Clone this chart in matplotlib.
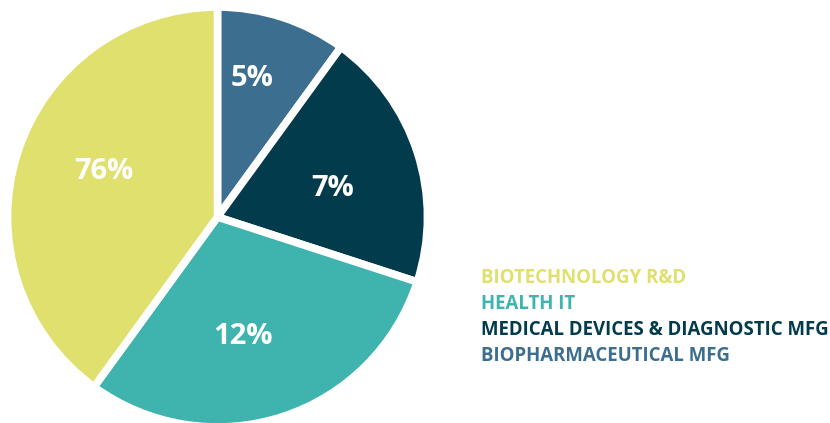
import matplotlib
matplotlib.use('Agg')
import matplotlib.pyplot as plt
import numpy as np

# slice sizes as drawn, and the printed labels
categories = ['BIOPHARMACEUTICAL MFG', 'MEDICAL DEVICES & DIAGNOSTIC MFG',
              'HEALTH IT', 'BIOTECHNOLOGY R&D']
slice_sizes = [10, 20, 30, 40]
pct_labels = ['5%', '7%', '12%', '76%']
colors = ['#3C6E8F', '#023B4B', '#3FB4AE', '#DFE06E']

legend_order = [3, 2, 1, 0]
# label placement tweaks: radial distance and angle shift from wedge middle
label_dist = [0.69, 0.57, 0.59, 0.59]
label_shift = [4, -4, -6, -4]

fig = plt.figure(figsize=(8.3, 4.23), dpi=100)
ax = fig.add_axes([10 / 830, -1.5 / 423, 415 / 830, 415 / 423])

wedges, texts = ax.pie(
    slice_sizes, colors=colors, startangle=90, counterclock=False,
    radius=1.012, wedgeprops=dict(edgecolor='white', linewidth=5.5))

for w, lab, d, s in zip(wedges, pct_labels, label_dist, label_shift):
    ang = np.deg2rad((w.theta1 + w.theta2) / 2 + s)
    ax.text(d * np.cos(ang), d * np.sin(ang), lab, color='white',
            fontsize=21, fontweight='bold', family='Open Sans',
            ha='center', va='center')

ax.set_xlim(-1, 1)
ax.set_ylim(-1, 1)
ax.set_aspect('equal')
ax.axis('off')

y = 1 - 278 / 423
for i in legend_order:
    fig.text(481 / 830, y, categories[i], color=colors[i], fontsize=13.4,
             fontweight='bold', family='Open Sans', va='center', ha='left')
    y -= 26 / 423

fig.savefig('out.png', dpi=100)
